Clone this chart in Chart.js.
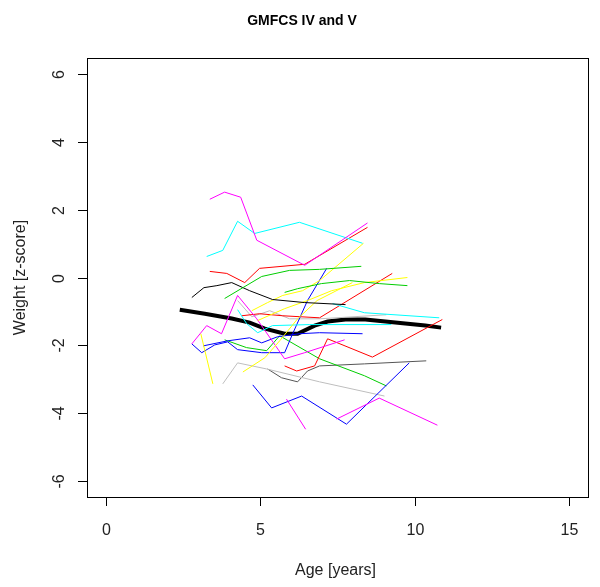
<!DOCTYPE html>
<html>
<head>
<meta charset="utf-8">
<script src="https://cdn.jsdelivr.net/npm/chart.js@4.4.1/dist/chart.umd.min.js"></script>
<style>
  html, body { margin: 0; padding: 0; background: #fff; }
  #wrap { width: 600px; height: 587px; }
</style>
</head>
<body>
<div id="wrap"><canvas id="chart" width="600" height="587"></canvas></div>
<script>
// === axis ticks ===
const xTicks = [0, 5, 10, 15];
const yTicks = [-6, -4, -2, 0, 2, 4, 6];

// === individual trajectories (age in years, weight z-score) ===
const ageMag1 = [3.37, 3.85, 4.37, 4.89, 6.44, 8.47];
const zMag1 = [2.31, 2.52, 2.37, 1.10, 0.36, 1.61];
const ageCyan1 = [3.27, 3.79, 4.27, 4.82, 6.27, 8.31];
const zCyan1 = [0.62, 0.80, 1.66, 1.30, 1.63, 1.01];
const ageRed1 = [3.37, 3.92, 4.50, 4.98, 6.44, 8.47];
const zRed1 = [0.18, 0.12, -0.15, 0.27, 0.39, 1.48];
const ageGreen1 = [3.85, 5.05, 5.95, 6.92, 8.27];
const zGreen1 = [-0.62, 0.03, 0.21, 0.24, 0.33];
const ageBlack1 = [2.79, 3.18, 3.60, 4.08, 4.66, 5.40, 6.44, 7.76];
const zBlack1 = [-0.59, -0.30, -0.24, -0.15, -0.39, -0.65, -0.74, -0.80];
const ageGreen2 = [5.79, 6.21, 6.98, 7.89, 8.85, 9.76];
const zGreen2 = [-0.44, -0.33, -0.18, -0.09, -0.18, -0.24];
const ageYellow1 = [3.08, 3.47];
const zYellow1 = [-1.66, -3.14];
const ageYellow2 = [4.44, 5.15, 5.63, 6.21, 6.84, 7.98];
const zYellow2 = [-2.79, -2.37, -1.87, -1.22, -0.68, -0.15];
const ageYellow3 = [4.73, 5.24, 5.73, 6.37, 6.92, 8.34];
const zYellow3 = [-0.98, -0.74, -0.53, -0.39, -0.09, 1.01];
const ageYellow4 = [4.92, 5.79, 6.53, 7.31, 8.37, 9.76];
const zYellow4 = [-1.27, -0.92, -0.68, -0.39, -0.15, 0.0];
const ageCyan2 = [4.27, 4.56, 4.92, 5.40, 6.60, 9.24];
const zCyan2 = [-0.95, -1.36, -1.63, -1.42, -1.39, -1.39];
const ageCyan3 = [7.34, 8.37, 10.79];
const zCyan3 = [-0.77, -1.04, -1.19];
const ageMag2 = [2.79, 3.27, 3.75, 4.27, 4.89, 5.79, 6.44, 7.73];
const zMag2 = [-1.96, -1.42, -1.66, -0.53, -1.22, -2.40, -2.22, -1.84];
const ageMag3 = [5.85, 6.47];
const zMag3 = [-3.59, -4.48];
const ageMag4 = [7.47, 8.85, 10.73];
const zMag4 = [-4.18, -3.56, -4.36];
const ageBlue1 = [4.76, 5.37, 6.34, 7.79, 9.82];
const zBlue1 = [-3.17, -3.85, -3.50, -4.33, -2.52];
const ageBlue2 = [2.79, 3.11, 3.53, 3.95, 4.27, 5.05, 5.79, 6.05, 6.53, 7.15];
const zBlue2 = [-1.96, -2.22, -1.99, -1.90, -2.13, -2.22, -2.22, -1.66, -0.68, 0.27];
const ageBlue3 = [3.15, 3.95, 4.66, 5.05, 5.56, 6.27, 6.92, 8.31];
const zBlue3 = [-2.02, -1.87, -1.78, -1.93, -1.75, -1.66, -1.63, -1.66];
const ageRed2 = [4.40, 4.98, 5.73, 6.92, 9.27];
const zRed2 = [-1.13, -1.07, -1.13, -1.19, 0.12];
const ageRed3 = [5.79, 6.18, 6.76, 7.18, 8.63, 10.89];
const zRed3 = [-2.61, -2.76, -2.61, -1.81, -2.35, -1.24];
const ageGreen3 = [3.85, 4.56, 5.21, 5.63, 6.92, 8.37, 9.08];
const zGreen3 = [-1.84, -2.07, -2.16, -1.72, -2.40, -2.90, -3.20];
const ageGrey1 = [3.79, 4.27, 5.21, 6.92, 9.02];
const zGrey1 = [-3.14, -2.52, -2.70, -3.08, -3.50];
const ageGrey2 = [5.24, 5.69, 6.21, 6.53, 6.92, 8.37, 10.37];
const zGrey2 = [-2.70, -2.96, -3.08, -2.76, -2.61, -2.55, -2.46];
const ageGrey3 = [4.27, 4.73, 5.31, 5.95, 6.92, 9.08];
const zGrey3 = [-0.68, -1.16, -0.98, -1.22, -1.22, -1.10];

// === smoothed mean curve ===
const ageSmooth = [2.40, 3.21, 4.08, 4.66, 5.15, 5.79, 6.21, 6.76, 7.18, 7.76, 8.40, 9.05, 9.69, 10.34, 10.85];
const zSmooth = [-0.95, -1.07, -1.21, -1.33, -1.51, -1.66, -1.66, -1.42, -1.30, -1.24, -1.24, -1.30, -1.36, -1.42, -1.48];

const pares = (xs, ys) => xs.map((x, i) => ({ x, y: ys[i] }));

const linea = (xs, ys, color, ancho = 1) => ({
  data: pares(xs, ys),
  borderColor: color,
  borderWidth: ancho,
  pointRadius: 0,
  fill: false,
  tension: 0
});

const datasets = [
  linea(ageMag1, zMag1, '#ff00ff'),
  linea(ageCyan1, zCyan1, '#00ffff'),
  linea(ageRed1, zRed1, '#ff0000'),
  linea(ageGreen1, zGreen1, '#00cd00'),
  linea(ageBlack1, zBlack1, '#000000'),
  linea(ageGreen2, zGreen2, '#00cd00'),
  linea(ageYellow1, zYellow1, '#ffff00'),
  linea(ageYellow2, zYellow2, '#ffff00'),
  linea(ageYellow3, zYellow3, '#ffff00'),
  linea(ageYellow4, zYellow4, '#ffff00'),
  linea(ageCyan2, zCyan2, '#00ffff'),
  linea(ageCyan3, zCyan3, '#00ffff'),
  linea(ageMag2, zMag2, '#ff00ff'),
  linea(ageMag3, zMag3, '#ff00ff'),
  linea(ageMag4, zMag4, '#ff00ff'),
  linea(ageBlue1, zBlue1, '#0000ff'),
  linea(ageBlue2, zBlue2, '#0000ff'),
  linea(ageBlue3, zBlue3, '#0000ff'),
  linea(ageRed2, zRed2, '#ff0000'),
  linea(ageRed3, zRed3, '#ff0000'),
  linea(ageGreen3, zGreen3, '#00cd00'),
  linea(ageGrey1, zGrey1, '#bebebe'),
  linea(ageGrey2, zGrey2, '#555555'),
  linea(ageGrey3, zGrey3, '#bebebe'),
  linea(ageSmooth, zSmooth, '#000000', 4)
];

const FONT = '"Liberation Sans", Arial, sans-serif';

// box, ticks and labels drawn R-style from the chart's own scales
const marco = {
  id: 'marco',
  afterDraw(chart) {
    const { ctx, chartArea: a, scales } = chart;
    const sx = scales.x, sy = scales.y;
    ctx.save();
    ctx.strokeStyle = '#000';
    ctx.lineWidth = 1;
    ctx.strokeRect(Math.round(a.left) + 0.5, Math.round(a.top) + 0.5,
      Math.round(a.right - a.left), Math.round(a.bottom - a.top));

    ctx.fillStyle = '#222';
    ctx.font = '16px ' + FONT;
    ctx.textAlign = 'center';
    ctx.textBaseline = 'middle';
    xTicks.forEach(t => {
      const px = Math.round(sx.getPixelForValue(t)) + 0.5;
      ctx.beginPath();
      ctx.moveTo(px, a.bottom);
      ctx.lineTo(px, a.bottom + 9);
      ctx.stroke();
      ctx.fillText(String(t), px, a.bottom + 34);
    });
    yTicks.forEach(t => {
      const py = Math.round(sy.getPixelForValue(t)) + 0.5;
      ctx.beginPath();
      ctx.moveTo(a.left - 9, py);
      ctx.lineTo(a.left, py);
      ctx.stroke();
      ctx.save();
      ctx.translate(a.left - 27, py);
      ctx.rotate(-Math.PI / 2);
      ctx.fillText(String(t), 0, 0);
      ctx.restore();
    });

    const cx = (a.left + a.right) / 2;
    ctx.fillText('Age [years]', cx - 2, a.bottom + 74);
    ctx.save();
    ctx.translate(21, (a.top + a.bottom) / 2);
    ctx.rotate(-Math.PI / 2);
    ctx.fillText('Weight [z-score]', 0, 0);
    ctx.restore();

    ctx.fillStyle = '#000';
    ctx.font = 'bold 14px ' + FONT;
    ctx.fillText('GMFCS IV and V', 302, 21);
    ctx.restore();
  }
};

new Chart(document.getElementById('chart'), {
  type: 'line',
  data: { datasets },
  options: {
    responsive: false,
    animation: false,
    layout: { padding: { left: 87, top: 58, right: 12, bottom: 90 } },
    plugins: { legend: { display: false }, tooltip: { enabled: false }, title: { display: false } },
    scales: {
      x: { type: 'linear', min: -0.6, max: 15.6, display: false },
      y: { type: 'linear', min: -6.48, max: 6.48, display: false }
    }
  },
  plugins: [marco]
});
</script>
</body>
</html>
